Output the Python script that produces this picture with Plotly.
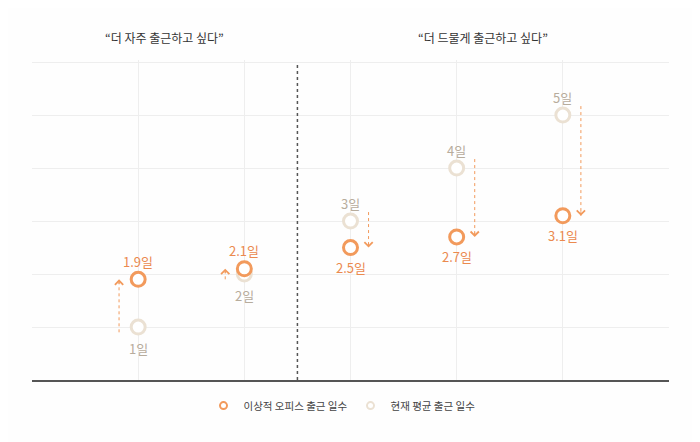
import plotly.graph_objects as go

# 데이터
categories = [1, 2, 3, 4, 5]
current_days = [1, 2, 3, 4, 5]
ideal_days = [1.9, 2.1, 2.5, 2.7, 3.1]
current_labels = ['1일', '2일', '3일', '4일', '5일']
ideal_labels = ['1.9일', '2.1일', '2.5일', '2.7일', '3.1일']
group_titles = ['“더 자주 출근하고 싶다”', '“더 드물게 출근하고 싶다”']
legend_names = ['이상적 오피스 출근 일수', '현재 평균 출근 일수']

ORANGE = '#F29A5C'
ORANGE_TXT = '#EB8A4E'
BEIGE = '#EBE1D3'
BEIGE_TXT = '#B7AC9C'
FONT = 'Noto Sans CJK KR'
BG = '#fefefe'

fig = go.Figure()

# 화살표 (점선 + 꺾쇠 머리)
for c, cur, ide in zip(categories, current_days, ideal_days):
    up = ide > cur
    ax_x = c - 0.18 if up else c + 0.17
    start = cur - 0.1 if up else cur + 0.17
    fig.add_trace(go.Scatter(
        x=[ax_x, ax_x], y=[start, ide],
        mode='lines', line=dict(color=ORANGE, width=1, dash='dot'),
        showlegend=False, hoverinfo='skip'))
    fig.add_annotation(
        x=ax_x, y=ide, ax=0, ay=6 if up else -6,
        showarrow=True, arrowhead=4, arrowsize=1.6, arrowwidth=1,
        arrowcolor=ORANGE, text='')

# 현재 평균 (아래에 그림)
fig.add_trace(go.Scatter(
    x=categories, y=current_days, mode='markers',
    marker=dict(size=14, color='white', line=dict(color=BEIGE, width=3)),
    showlegend=False, hoverinfo='skip'))

# 이상적 출근 일수
fig.add_trace(go.Scatter(
    x=categories, y=ideal_days, mode='markers',
    marker=dict(size=14, color='white', line=dict(color=ORANGE, width=3)),
    showlegend=False, hoverinfo='skip'))

# 값 라벨 (증가면 이상값 위/현재값 아래, 감소면 반대)
for c, cur, ide, cl, il in zip(categories, current_days, ideal_days,
                               current_labels, ideal_labels):
    up = ide > cur
    fig.add_annotation(x=c, y=cur, text=cl, showarrow=False,
                       yshift=-21 if up else 18,
                       font=dict(family=FONT, size=13, color=BEIGE_TXT))
    fig.add_annotation(x=c, y=ide, text=il, showarrow=False,
                       yshift=18 if up else -20,
                       font=dict(family=FONT, size=13, color=ORANGE_TXT))

# 범례용 더미
fig.add_trace(go.Scatter(
    x=[None], y=[None], mode='markers', name=legend_names[0],
    marker=dict(size=7, color='white', line=dict(color=ORANGE, width=2))))
fig.add_trace(go.Scatter(
    x=[None], y=[None], mode='markers', name=legend_names[1],
    marker=dict(size=7, color='white', line=dict(color=BEIGE, width=2))))

# 구분선
fig.add_shape(type='line', x0=2.5, x1=2.5, y0=0, y1=6, xref='x', yref='y',
              line=dict(color='#555555', width=1.5, dash='dot'))

# 그룹 제목
fig.add_annotation(x=1.25, y=1.0, xref='x', yref='paper', yshift=33,
                   text=group_titles[0], showarrow=False,
                   font=dict(family=FONT, size=12, color='#333333'))
fig.add_annotation(x=4.25, y=1.0, xref='x', yref='paper', yshift=33,
                   text=group_titles[1], showarrow=False,
                   font=dict(family=FONT, size=12, color='#333333'))

# 페이지 여백(8px)을 감안한 margin
fig.update_layout(
    width=700, height=442,
    paper_bgcolor=BG, plot_bgcolor=BG,
    margin=dict(l=24, r=39, t=52, b=70),
    font=dict(family=FONT),
    xaxis=dict(range=[0, 6], tickvals=categories, showticklabels=False,
               showgrid=True, gridcolor='#EEEEEE', gridwidth=1,
               zeroline=False, showline=True, linecolor='#555555', linewidth=1.5,
               ticks=''),
    yaxis=dict(range=[0, 6.04], tickvals=[1, 2, 3, 4, 5, 6], showticklabels=False,
               showgrid=True, gridcolor='#EEEEEE', gridwidth=1,
               zeroline=False, showline=False, ticks=''),
    legend=dict(orientation='h', x=0.5, xanchor='center', y=-0.08, yanchor='middle',
                font=dict(family=FONT, size=10.5, color='#444444'),
                bgcolor='rgba(0,0,0,0)', itemwidth=30, entrywidth=102),
    showlegend=True,
)

fig.write_html("out.html")
